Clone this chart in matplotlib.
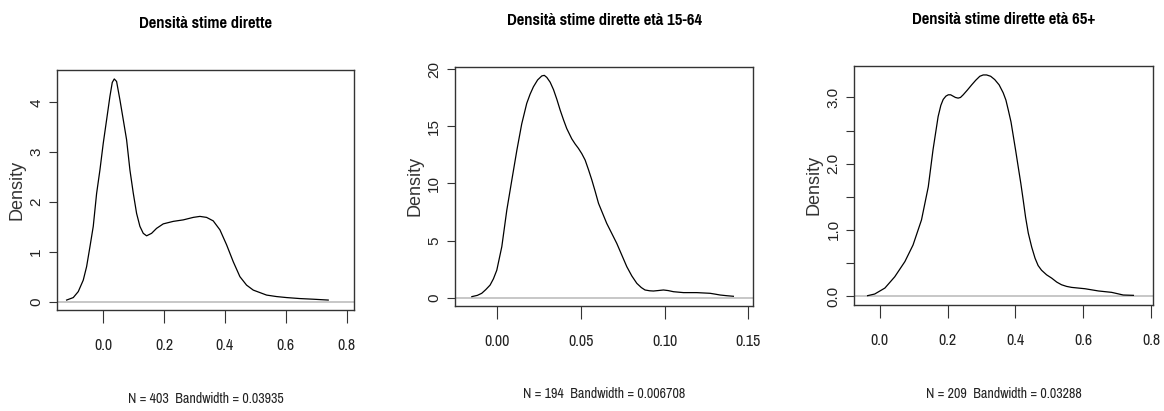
import matplotlib
matplotlib.use("Agg")
import matplotlib.pyplot as plt

# valori letti a occhio dal grafico originale (curve di densita)
x_tot = [-0.1205, -0.0986, -0.0822, -0.0658, -0.0548, -0.0438, -0.0329, -0.0219, -0.0110, 0.0000,
         0.0110, 0.0219, 0.0296, 0.0362, 0.0438, 0.0548, 0.0658, 0.0767, 0.0877, 0.0986,
         0.1096, 0.1205, 0.1315, 0.1425, 0.1589, 0.1753, 0.1973, 0.2301, 0.2630, 0.2959,
         0.3178, 0.3397, 0.3616, 0.3836, 0.4055, 0.4274, 0.4493, 0.4712, 0.4932, 0.5151,
         0.5370, 0.5699, 0.6027, 0.6466, 0.6904, 0.7397]
y_tot = [0.03, 0.08, 0.20, 0.43, 0.70, 1.10, 1.51, 2.17, 2.64, 3.18,
         3.65, 4.12, 4.40, 4.47, 4.42, 4.05, 3.65, 3.25, 2.64, 2.18,
         1.77, 1.51, 1.37, 1.32, 1.37, 1.47, 1.56, 1.61, 1.64, 1.69,
         1.71, 1.69, 1.62, 1.44, 1.14, 0.80, 0.50, 0.33, 0.23, 0.18,
         0.13, 0.10, 0.08, 0.06, 0.047, 0.03]

x_1564 = [-0.0153, -0.0120, -0.0094, -0.0070, -0.0044, -0.0024, -0.0004, 0.0026, 0.0056, 0.0086,
          0.0116, 0.0145, 0.0175, 0.0195, 0.0215, 0.0240, 0.0265, 0.0280, 0.0295, 0.0315,
          0.0335, 0.0355, 0.0375, 0.0395, 0.0414, 0.0444, 0.0464, 0.0484, 0.0504, 0.0524,
          0.0544, 0.0564, 0.0584, 0.0604, 0.0653, 0.0713, 0.0773, 0.0803, 0.0833, 0.0860,
          0.0882, 0.0910, 0.0932, 0.0960, 0.0992, 0.1020, 0.1052, 0.1112, 0.1191, 0.1271,
          0.1300, 0.1331, 0.1370, 0.1410]
y_1564 = [0.09, 0.20, 0.38, 0.70, 1.10, 1.65, 2.40, 4.46, 7.67, 10.3,
          12.9, 15.2, 17.0, 17.8, 18.45, 19.05, 19.4, 19.45, 19.27, 18.85,
          18.2, 17.35, 16.4, 15.55, 14.8, 13.9, 13.45, 13.06, 12.6, 12.04,
          11.2, 10.3, 9.3, 8.25, 6.5, 4.75, 2.71, 1.9, 1.25, 0.88,
          0.67, 0.60, 0.58, 0.62, 0.67, 0.62, 0.52, 0.44, 0.44, 0.38,
          0.31, 0.23, 0.17, 0.12]

x_65 = [-0.036, -0.015, 0.015, 0.044, 0.074, 0.098, 0.123, 0.143, 0.157, 0.172,
        0.180, 0.187, 0.195, 0.202, 0.209, 0.216, 0.223, 0.231, 0.238, 0.246,
        0.258, 0.271, 0.283, 0.295, 0.305, 0.315, 0.327, 0.339, 0.352, 0.364,
        0.372, 0.379, 0.387, 0.394, 0.401, 0.408, 0.416, 0.423, 0.430, 0.438,
        0.448, 0.458, 0.467, 0.477, 0.492, 0.507, 0.522, 0.536, 0.551, 0.566,
        0.605, 0.645, 0.684, 0.718, 0.748]
y_65 = [0.005, 0.03, 0.12, 0.29, 0.52, 0.77, 1.15, 1.65, 2.21, 2.71,
        2.88, 2.97, 3.02, 3.04, 3.04, 3.02, 3.00, 2.99, 3.00, 3.04,
        3.11, 3.19, 3.26, 3.32, 3.34, 3.34, 3.32, 3.27, 3.19, 3.07,
        2.96, 2.81, 2.63, 2.41, 2.19, 1.96, 1.70, 1.45, 1.19, 0.95,
        0.74, 0.57, 0.46, 0.39, 0.32, 0.27, 0.21, 0.17, 0.145, 0.13,
        0.11, 0.076, 0.055, 0.015, 0.01]

titoli = ["Densità stime dirette", "Densità stime dirette età 15-64", "Densità stime dirette età 65+"]
sottotitoli = ["N = 403  Bandwidth = 0.03935", "N = 194  Bandwidth = 0.006708", "N = 209  Bandwidth = 0.03288"]

xticks = [[0.0, 0.2, 0.4, 0.6, 0.8], [0.00, 0.05, 0.10, 0.15], [0.0, 0.2, 0.4, 0.6, 0.8]]
xlabels = [["0.0", "0.2", "0.4", "0.6", "0.8"], ["0.00", "0.05", "0.10", "0.15"], ["0.0", "0.2", "0.4", "0.6", "0.8"]]
yticks = [[0, 1, 2, 3, 4], [0, 5, 10, 15, 20], [0.0, 0.5, 1.0, 1.5, 2.0, 2.5, 3.0]]
ylabels = [["0", "1", "2", "3", "4"], ["0", "5", "10", "15", "20"], ["0.0", "", "1.0", "", "2.0", "", "3.0"]]

xlims = [(-0.152, 0.824), (-0.0253, 0.153), (-0.075, 0.805)]
ylims = [(-0.17, 4.65), (-0.73, 20.2), (-0.136, 3.48)]

# posizioni degli assi in frazioni della figura
boxes = [[0.049, 0.2457, 0.255, 0.584],
         [0.391, 0.2555, 0.2563, 0.582],
         [0.734, 0.2579, 0.2563, 0.5823]]

narrow = ['Pragati Narrow', 'Archivo Narrow', 'DejaVu Sans']
normal = ['Arimo', 'Liberation Sans', 'DejaVu Sans']

fig = plt.figure(figsize=(11.64, 4.11), dpi=100)
dati = [(x_tot, y_tot), (x_1564, y_1564), (x_65, y_65)]

for i, (xs, ys) in enumerate(dati):
    ax = fig.add_axes(boxes[i])
    ax.axhline(0, color='#bebebe', lw=1.2, zorder=1)
    ax.plot(xs, ys, color='black', lw=0.9, zorder=2)
    ax.set_xlim(*xlims[i])
    ax.set_ylim(*ylims[i])
    ax.set_xticks(xticks[i])
    ax.set_xticklabels(xlabels[i], family=narrow, fontsize=12.5, color='#222222')
    ax.set_yticks(yticks[i])
    ax.set_yticklabels(ylabels[i], family=normal, fontsize=11, rotation=90,
                       va='center', color='#222222')
    ax.tick_params(axis='x', length=9, width=0.8, pad=11, color='#333333')
    ax.tick_params(axis='y', length=6, width=0.8, pad=4, color='#333333')
    for s in ax.spines.values():
        s.set_linewidth(1.0)
        s.set_color('#333333')
    ax.set_ylabel("Density", family=normal, fontsize=13, va='center', color='#333333')
    ax.yaxis.set_label_coords(-40 / 298, 0.5)
    ax.set_title(titoli[i], family=narrow, fontsize=13, fontweight='bold', pad=30)
    ax.text(0.5, -0.37, sottotitoli[i], transform=ax.transAxes, ha='center', va='center',
            family=narrow, fontsize=11, color='#222222')

fig.savefig("out.png", dpi=100)
